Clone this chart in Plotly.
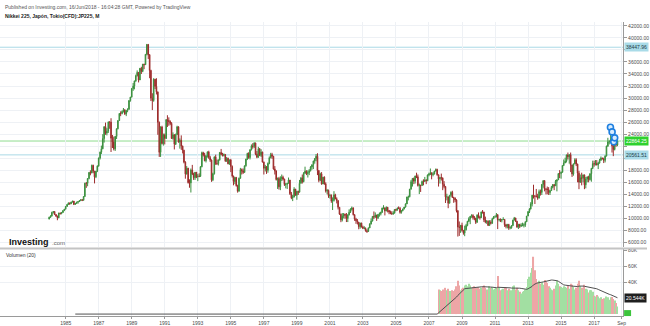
import pandas as pd
import plotly.graph_objects as go

# ---------------- Nikkei 225 monthly bars (Jan 1984 - Jun 2018) ----------------
months = pd.date_range("1984-01-01", "2018-06-01", freq="MS")

open_pts = [
    9890, 10200, 10400, 11000, 11150, 10650, 10400, 10100, 10900, 10800, 11000, 11300,
    11540, 11990, 12320, 12580, 12430, 12720, 12880, 12330, 12500, 12700, 12800, 12970,
    13110, 13020, 13640, 15860, 15830, 16630, 17650, 17560, 18820, 17850, 16910, 17850,
    18700, 20050, 21020, 21570, 23270, 25250, 24180, 24490, 26030, 26010, 23330, 22690,
    21560, 23620, 24900, 26260, 27430, 27420, 27770, 28060, 27370, 27920, 28120, 29580,
    30160, 31580, 31990, 32840, 33710, 34270, 33000, 34950, 34430, 35640, 35550, 37270,
    38920, 37190, 34590, 29980, 29580, 33130, 31940, 31040, 25980, 20980, 25190, 22450,
    23850, 23290, 26410, 26290, 26110, 25790, 23290, 23900, 22340, 23920, 25220, 22690,
    22980, 22020, 21340, 19350, 17390, 18350, 15950, 15910, 18060, 17400, 16770, 17680,
    16920, 17020, 17000, 18590, 20920, 20550, 19590, 20380, 21030, 20110, 19700, 16410,
    17420, 20230, 19110, 19110, 19730, 20970, 20640, 20450, 20630, 19560, 19990, 19080,
    19720, 18650, 17050, 16140, 16810, 15440, 14520, 16680, 18120, 17910, 17650, 18740,
    19870, 20810, 20130, 21410, 22040, 21960, 22530, 20690, 20170, 21560, 20470, 21020,
    19360, 18330, 18560, 18000, 19150, 20070, 20600, 20330, 18230, 17890, 16460, 16640,
    15260, 16630, 16830, 16530, 15640, 15670, 15830, 16380, 14110, 13410, 13560, 14880,
    13840, 14500, 14370, 15840, 16700, 16110, 17530, 17860, 17440, 17600, 17940, 18560,
    18930, 19540, 19960, 20340, 17970, 16330, 17410, 15730, 16860, 15750, 14540, 14650,
    13790, 13840, 12880, 12990, 13930, 13260, 12970, 11860, 10710, 9770, 10370, 10700,
    10540, 9990, 10590, 11030, 11490, 11760, 10620, 9880, 9620, 9380, 8640, 9220,
    8580, 8340, 8360, 7970, 7830, 8420, 9080, 9560, 10340, 10220, 10560, 10100,
    10680, 10780, 11040, 11720, 11760, 11240, 11860, 11330, 11080, 10820, 10770, 10900,
    11490, 11390, 11740, 11670, 11010, 11280, 11580, 11900, 12410, 13570, 13610, 14870,
    16110, 16650, 16210, 17060, 16910, 15470, 15510, 15460, 16140, 16130, 16400, 16270,
    17230, 17380, 17600, 17290, 17400, 17880, 18140, 17250, 16570, 16790, 16740, 15680,
    15310, 13590, 13600, 12530, 13850, 14340, 13480, 13380, 13070, 11260, 8580, 8510,
    8860, 7990, 7570, 8110, 8830, 9520, 9960, 10360, 10490, 10130, 10030, 9350,
    10550, 10200, 10130, 11090, 11060, 9770, 9380, 9540, 8820, 9370, 9200, 9940,
    10230, 10240, 10620, 9760, 9850, 9690, 9820, 9830, 8960, 8700, 8990, 8430,
    8460, 8800, 9720, 10080, 9520, 8540, 9010, 8700, 8840, 8870, 8930, 9450,
    10400, 11140, 11560, 12400, 13860, 13770, 13680, 13670, 13390, 14460, 14330, 15660,
    16290, 14910, 14840, 14830, 14300, 14630, 15160, 15620, 15420, 16170, 16410, 17460,
    17450, 17670, 18800, 19210, 19520, 20560, 20240, 20590, 18890, 17390, 19080, 19750,
    19030, 17520, 16030, 16760, 16670, 17230, 15580, 16570, 16890, 16450, 17430, 18310,
    19110, 19040, 19120, 18910, 19200, 19650, 20030, 19930, 19650, 20360, 22010, 22720,
    22760, 23100, 22070, 21450, 22470, 22200,
]

high_pts = [
    10280, 10520, 11120, 11190, 11180, 10700, 10450, 10950, 10990, 11060, 11350, 11580,
    12050, 12400, 12650, 12620, 12770, 12920, 12900, 12560, 12760, 12880, 13020, 13160,
    13220, 13700, 15930, 16050, 16700, 17680, 18000, 18940, 18930, 17900, 17900, 18820,
    20100, 21100, 22100, 24000, 25300, 25930, 25000, 26100, 26120, 26650, 23870, 23600,
    23700, 24950, 26300, 27500, 27800, 27950, 28350, 28100, 27950, 28300, 29650, 30200,
    31650, 32500, 32900, 33900, 34600, 34300, 34990, 35200, 35650, 35700, 37300, 38960,
    38950, 37300, 34700, 30800, 33300, 33190, 33300, 31050, 26100, 25300, 25400, 24100,
    24100, 26500, 27150, 26800, 26300, 26000, 24300, 24000, 24100, 25400, 25300, 23300,
    23800, 22100, 21400, 19500, 18700, 18400, 16500, 18300, 18900, 17600, 17700, 17700,
    17400, 17500, 18700, 21100, 21080, 20900, 20500, 21150, 21250, 20400, 19800, 17600,
    20300, 20600, 19800, 19800, 21000, 21550, 20900, 20800, 20650, 20200, 20100, 19800,
    19900, 18800, 17100, 16900, 16900, 15600, 16800, 18400, 18300, 18300, 18800, 19900,
    20900, 21000, 21500, 22300, 22500, 22670, 22600, 21200, 21900, 21700, 21500, 21100,
    19450, 18900, 18700, 19300, 20300, 20900, 20900, 20400, 18700, 18000, 16800, 16900,
    17000, 17300, 17100, 16600, 15900, 15900, 16800, 16400, 14400, 13900, 15200, 14900,
    14600, 14600, 16400, 16900, 17300, 17700, 18600, 18000, 18000, 18200, 18700, 18950,
    19600, 20000, 20700, 20833, 18000, 17600, 17700, 16900, 17000, 16000, 14900, 14800,
    14100, 14000, 13500, 14530, 14100, 13500, 13000, 11900, 10800, 10900, 10900, 10800,
    10900, 10700, 11500, 11700, 11980, 11800, 10700, 10100, 9900, 9400, 9300, 9300,
    8800, 8700, 8500, 8200, 8500, 9200, 10000, 10400, 11160, 11000, 10600, 10700,
    11000, 11100, 11800, 12200, 11800, 12000, 11900, 11400, 11300, 11200, 11200, 11500,
    11600, 11800, 12000, 11900, 11400, 11600, 11900, 12500, 13600, 13800, 14900, 16400,
    16700, 16800, 17100, 17600, 17300, 15800, 15600, 16300, 16500, 16900, 16500, 17300,
    17600, 18300, 17600, 17700, 17900, 18300, 18260, 17300, 16900, 17450, 16800, 16200,
    15400, 14100, 13600, 13900, 14500, 14600, 13600, 13500, 13200, 11400, 9500, 8900,
    9300, 8100, 8800, 9100, 9600, 10200, 10400, 10700, 10700, 10400, 10100, 10700,
    11000, 10400, 11100, 11400, 11100, 10300, 9700, 9700, 9700, 9700, 10100, 10400,
    10500, 10900, 10700, 9900, 10000, 9900, 10200, 9900, 9100, 9100, 9100, 8700,
    8900, 9800, 10250, 10100, 9600, 9100, 9100, 9200, 9300, 9200, 9500, 10400,
    11200, 11700, 12700, 13900, 15600, 13800, 14900, 14100, 14800, 14800, 15700, 16320,
    16320, 15000, 15300, 15200, 14700, 15400, 15700, 15700, 16400, 16500, 17500, 18030,
    17800, 18800, 19800, 20100, 20600, 20950, 20700, 20950, 18900, 19100, 20000, 20000,
    19100, 17900, 17300, 17600, 17300, 17300, 16900, 17000, 17100, 17500, 18400, 19600,
    19600, 19700, 19700, 19400, 19900, 20300, 20100, 20100, 20500, 22100, 23400, 23000,
    24130, 23500, 22500, 22600, 23050, 23000,
]

low_pts = [
    9860, 10090, 10330, 10820, 10560, 10250, 9700, 10050, 10650, 10700, 10900, 11230,
    11500, 11950, 12260, 12280, 12390, 12650, 12220, 12260, 12420, 12450, 12740, 12900,
    12880, 12960, 13600, 15080, 15350, 16500, 17170, 17510, 17510, 15820, 16700, 17700,
    18600, 19800, 20700, 21500, 22600, 23900, 23800, 24200, 24900, 21040, 21700, 21300,
    21220, 23200, 24800, 26200, 27000, 27300, 27600, 27200, 27000, 27650, 28100, 29400,
    30100, 31200, 31450, 32700, 33600, 32600, 33000, 34000, 34300, 34800, 35500, 37100,
    36500, 33300, 29500, 28000, 29400, 31500, 30600, 23900, 20220, 20220, 22300, 22100,
    22300, 23200, 25200, 25400, 25500, 23200, 23100, 21460, 22200, 23900, 22600, 21600,
    21400, 20800, 19150, 16600, 17300, 15800, 15100, 14310, 17200, 16400, 16400, 16700,
    16200, 16850, 16900, 18500, 20300, 19500, 19300, 20100, 19900, 19400, 16080, 16200,
    17300, 18900, 18900, 18800, 19600, 20500, 20300, 20300, 19400, 19400, 19000, 18900,
    17700, 16800, 15500, 15700, 15300, 14290, 14480, 16600, 17300, 17400, 17600, 18600,
    19700, 19900, 19800, 21300, 21600, 21700, 20500, 20000, 20100, 20400, 20200, 19300,
    17300, 17800, 17400, 17600, 19000, 20000, 19900, 18100, 17300, 16300, 14900, 14800,
    14700, 16200, 16300, 15400, 15000, 14900, 15800, 13900, 13200, 12880, 13500, 13800,
    13100, 13900, 14300, 15800, 15800, 16000, 17400, 17200, 16800, 17200, 17800, 18100,
    18200, 19100, 19500, 17200, 16000, 16200, 15600, 15700, 15600, 14300, 14000, 13420,
    13300, 12600, 11400, 12800, 13200, 12500, 11500, 10600, 9380, 9500, 10000, 9950,
    9400, 9400, 10500, 10900, 11300, 10500, 9600, 9100, 9000, 8200, 8300, 8500,
    8300, 8200, 7800, 7600, 7800, 8400, 9000, 9500, 9900, 10100, 9600, 9900,
    10300, 10500, 10900, 11500, 10500, 11200, 11000, 10700, 10700, 10600, 10600, 10800,
    11200, 11300, 11600, 10800, 10800, 11200, 11500, 11800, 12400, 13000, 13500, 14800,
    15300, 15700, 15800, 16700, 15300, 14050, 14400, 15400, 15500, 16100, 15700, 16200,
    17000, 17200, 16500, 17000, 17300, 17800, 17100, 15300, 15800, 16300, 14700, 15000,
    12570, 13000, 11700, 12500, 13600, 13400, 12600, 12700, 11000, 6990, 7100, 7600,
    7800, 7300, 7050, 8000, 8700, 9400, 9050, 10100, 9800, 9700, 9080, 9300,
    10000, 9800, 10100, 10800, 9400, 9200, 9100, 8800, 8800, 9000, 9100, 9900,
    10200, 10200, 8230, 9500, 9400, 9350, 9800, 8600, 8350, 8350, 8100, 8200,
    8300, 8800, 9700, 9400, 8500, 8240, 8400, 8600, 8700, 8500, 8600, 9400,
    10400, 10900, 11500, 12000, 13300, 12400, 13500, 13100, 13300, 13800, 13900, 15100,
    14500, 13990, 14000, 13900, 13900, 14600, 15000, 14700, 15400, 14500, 16400, 16700,
    16600, 17600, 18700, 19200, 19300, 19800, 19100, 17700, 16900, 17100, 19000, 18700,
    16000, 14860, 15900, 15500, 16000, 14860, 15000, 16000, 16000, 16300, 16100, 18200,
    18600, 18800, 18800, 18200, 19100, 19600, 19800, 19200, 19300, 20300, 21900, 22300,
    22700, 20950, 20350, 21300, 21900, 22000,
]

close_pts = [
    10200, 10400, 11000, 11150, 10650, 10400, 10100, 10900, 10800, 11000, 11300, 11540,
    11990, 12320, 12580, 12430, 12720, 12880, 12330, 12500, 12700, 12800, 12970, 13110,
    13020, 13640, 15860, 15830, 16630, 17650, 17560, 18820, 17850, 16910, 17850, 18700,
    20050, 21020, 21570, 23270, 25250, 24180, 24490, 26030, 26010, 23330, 22690, 21560,
    23620, 24900, 26260, 27430, 27420, 27770, 28060, 27370, 27920, 28120, 29580, 30160,
    31580, 31990, 32840, 33710, 34270, 33000, 34950, 34430, 35640, 35550, 37270, 38920,
    37190, 34590, 29980, 29580, 33130, 31940, 31040, 25980, 20980, 25190, 22450, 23850,
    23290, 26410, 26290, 26110, 25790, 23290, 23900, 22340, 23920, 25220, 22690, 22980,
    22020, 21340, 19350, 17390, 18350, 15950, 15910, 18060, 17400, 16770, 17680, 16920,
    17020, 17000, 18590, 20920, 20550, 19590, 20380, 21030, 20110, 19700, 16410, 17420,
    20230, 19110, 19110, 19730, 20970, 20640, 20450, 20630, 19560, 19990, 19080, 19720,
    18650, 17050, 16140, 16810, 15440, 14520, 16680, 18120, 17910, 17650, 18740, 19870,
    20810, 20130, 21410, 22040, 21960, 22530, 20690, 20170, 21560, 20470, 21020, 19360,
    18330, 18560, 18000, 19150, 20070, 20600, 20330, 18230, 17890, 16460, 16640, 15260,
    16630, 16830, 16530, 15640, 15670, 15830, 16380, 14110, 13410, 13560, 14880, 13840,
    14500, 14370, 15840, 16700, 16110, 17530, 17860, 17440, 17600, 17940, 18560, 18930,
    19540, 19960, 20340, 17970, 16330, 17410, 15730, 16860, 15750, 14540, 14650, 13790,
    13840, 12880, 12990, 13930, 13260, 12970, 11860, 10710, 9770, 10370, 10700, 10540,
    9990, 10590, 11030, 11490, 11760, 10620, 9880, 9620, 9380, 8640, 9220, 8580,
    8340, 8360, 7970, 7830, 8420, 9080, 9560, 10340, 10220, 10560, 10100, 10680,
    10780, 11040, 11720, 11760, 11240, 11860, 11330, 11080, 10820, 10770, 10900, 11490,
    11390, 11740, 11670, 11010, 11280, 11580, 11900, 12410, 13570, 13610, 14870, 16110,
    16650, 16210, 17060, 16910, 15470, 15510, 15460, 16140, 16130, 16400, 16270, 17230,
    17380, 17600, 17290, 17400, 17880, 18140, 17250, 16570, 16790, 16740, 15680, 15310,
    13590, 13600, 12530, 13850, 14340, 13480, 13380, 13070, 11260, 8580, 8510, 8860,
    7990, 7570, 8110, 8830, 9520, 9960, 10360, 10490, 10130, 10030, 9350, 10550,
    10200, 10130, 11090, 11060, 9770, 9380, 9540, 8820, 9370, 9200, 9940, 10230,
    10240, 10620, 9760, 9850, 9690, 9820, 9830, 8960, 8700, 8990, 8430, 8460,
    8800, 9720, 10080, 9520, 8540, 9010, 8700, 8840, 8870, 8930, 9450, 10400,
    11140, 11560, 12400, 13860, 13770, 13680, 13670, 13390, 14460, 14330, 15660, 16290,
    14910, 14840, 14830, 14300, 14630, 15160, 15620, 15420, 16170, 16410, 17460, 17450,
    17670, 18800, 19210, 19520, 20560, 20240, 20590, 18890, 17390, 19080, 19750, 19030,
    17520, 16030, 16760, 16670, 17230, 15580, 16570, 16890, 16450, 17430, 18310, 19110,
    19040, 19120, 18910, 19200, 19650, 20030, 19930, 19650, 20360, 22010, 22720, 22760,
    23100, 22070, 21450, 22470, 22200, 22864.25,
]

# ---------------- Volume (thousands), available from Aug 2007 ----------------
vol_months = pd.date_range("2007-08-01", "2018-06-01", freq="MS")
volume_k = [
    31, 30, 29, 31, 30,
    33, 30, 32, 29, 28, 30, 29, 31, 35, 42, 36, 30,
    32, 33, 36, 37, 35, 38, 36, 33, 34, 35, 33, 30,
    34, 32, 33, 35, 36, 33, 31, 30, 35, 33, 34, 31,
    32, 33, 48, 33, 30, 31, 32, 34, 33, 30, 32, 29,
    30, 35, 36, 31, 33, 30, 28, 26, 28, 29, 31, 34,
    44, 47, 52, 58, 72, 55, 44, 40, 42, 38, 40, 37,
    43, 41, 39, 35, 33, 31, 30, 32, 36, 42, 38, 35,
    34, 33, 35, 34, 33, 36, 32, 38, 37, 34, 31, 33,
    38, 42, 35, 33, 31, 37, 32, 31, 27, 30, 30, 28,
    23, 22, 24, 22, 20, 21, 19, 20, 19, 22, 21, 18,
    21, 21.5, 19, 17, 14, 9.38,
]
VOL_MA_LEN = 20

# Horizontal levels drawn across the price pane
level_values = [38447.96, 22864.25, 20561.51]
level_colors = ["#a9d9e6", "#8fdc8f", "#a9d9e6"]
level_box_colors = ["#a9dbe8", "#2ed12e", "#a9dbe8"]
level_text_colors = ["#1d3b45", "#ffffff", "#1d3b45"]

# Event flags above the latest bars
event_dates = ["2017-12-28", "2018-02-03", "2018-03-11", "2018-04-01"]
event_prices = [25160, 24380, 22730, 23390]

# Axis ticks
price_ticks = [6000, 8000, 10000, 12000, 14000, 16000, 18000, 20000, 22000, 24000,
               26000, 28000, 30000, 32000, 34000, 36000, 38000, 40000, 42000]
price_ticks_hidden = [20000, 22000, 38000]
year_ticks = [1985, 1987, 1989, 1991, 1993, 1995, 1997, 1999, 2001, 2003,
              2005, 2007, 2009, 2011, 2013, 2015, 2017]
vol_ticks = [40, 60, 80]
vol_tick_text = ["40K", "60K", "80K"]

assert len(open_pts) == len(high_pts) == len(low_pts) == len(close_pts) == len(months)
assert len(volume_k) == len(vol_months)

# ---------------- Geometry (pixels of a 650x326 page) ----------------
W, H = 650, 326
PLOT_RIGHT = 626
PRICE_TOP, PRICE_BOT = 20, 247
VOL_TOP, VOL_BOT = 249, 316


def py(px):
    return 1 - px / H


x_dom = [0, PLOT_RIGHT / W]
FONT = "Arial, Liberation Sans, sans-serif"
UP_LINE, UP_FILL = "#3b8f3e", "#5cbf5f"
DN_LINE, DN_FILL = "#9c2b2b", "#c8413c"

fig = go.Figure()

fig.add_trace(go.Candlestick(
    x=months, open=open_pts, high=high_pts, low=low_pts, close=close_pts,
    increasing=dict(line=dict(color=UP_LINE, width=1), fillcolor=UP_FILL),
    decreasing=dict(line=dict(color=DN_LINE, width=1), fillcolor=DN_FILL),
    whiskerwidth=0, xaxis="x", yaxis="y", showlegend=False, hoverinfo="skip",
))

fig.add_trace(go.Scatter(
    x=pd.to_datetime(event_dates), y=event_prices, mode="markers",
    marker=dict(symbol="circle", size=6, color="#d6ecff",
                line=dict(color="#1e7fe0", width=1.6)),
    xaxis="x", yaxis="y", showlegend=False, hoverinfo="skip",
))

# volume bars coloured by the direction of their month's candle
bar_dir = {m: (c >= o) for m, o, c in zip(months, open_pts, close_pts)}
vol_colors = ["#a2dfa2" if bar_dir[m] else "#eda6a6" for m in vol_months]
fig.add_trace(go.Bar(
    x=vol_months, y=volume_k, marker=dict(color=vol_colors, line=dict(width=0)),
    xaxis="x2", yaxis="y2", showlegend=False, hoverinfo="skip",
))

vol_full = pd.Series(0.0, index=months)
vol_full.loc[vol_months] = volume_k
vol_ma = vol_full.rolling(VOL_MA_LEN).mean()
fig.add_trace(go.Scatter(
    x=vol_ma.index[VOL_MA_LEN - 1:], y=vol_ma.values[VOL_MA_LEN - 1:], mode="lines",
    line=dict(color="#505050", width=1), xaxis="x2", yaxis="y2",
    showlegend=False, hoverinfo="skip",
))

# ---------------- Axes ----------------
t0 = pd.Timestamp("1985-01-01")
days_per_px = 365.25 / 16.59
x_range = [t0 - pd.Timedelta(days=66 * days_per_px),
           t0 + pd.Timedelta(days=(PLOT_RIGHT - 66) * days_per_px)]

x_tickvals = [f"{y}-01-01" for y in year_ticks] + ["2018-09-01"]
x_ticktext = [str(y) for y in year_ticks] + ["Sep"]

price_per_px = 36000 / (242 - 24)
price_range = [6000 - (PRICE_BOT - 242) * price_per_px,
               42000 + (24 - PRICE_TOP) * price_per_px]
vol_per_px = 1 / 0.8
vol_range = [-(VOL_BOT - 314) * vol_per_px, (314 - VOL_TOP) * vol_per_px]

grid = "#eef1f5"
tickfont = dict(family=FONT, size=5, color="#4a4a4a")

fig.update_layout(
    width=W, height=H, margin=dict(l=0, r=0, t=0, b=0),
    paper_bgcolor="white", plot_bgcolor="white", showlegend=False,
    bargap=0.12, hovermode=False,
    xaxis=dict(domain=x_dom, anchor="y", type="date", range=x_range,
               rangeslider=dict(visible=False), tickvals=x_tickvals,
               ticktext=x_ticktext, showticklabels=False, showgrid=True,
               gridcolor=grid, gridwidth=1, zeroline=False, showline=False),
    xaxis2=dict(domain=x_dom, anchor="y2", type="date", matches="x",
                range=x_range, tickvals=x_tickvals, ticktext=x_ticktext,
                tickfont=tickfont, ticks="outside", ticklen=2, tickcolor="#999",
                showgrid=True, gridcolor=grid, gridwidth=1, zeroline=False,
                showline=True, linecolor="#9a9a9a", linewidth=1),
    yaxis=dict(domain=[py(PRICE_BOT), py(PRICE_TOP)], anchor="x", side="right",
               range=price_range, tickvals=price_ticks,
               ticktext=["" if v in price_ticks_hidden else f"{v:.2f}" for v in price_ticks],
               tickfont=tickfont, ticks="outside", ticklen=3, tickcolor="#999",
               showgrid=True, gridcolor=grid, gridwidth=1, zeroline=False,
               showline=True, linecolor="#9a9a9a", linewidth=1),
    yaxis2=dict(domain=[py(VOL_BOT), py(VOL_TOP)], anchor="x2", side="right",
                range=vol_range, tickvals=vol_ticks, ticktext=vol_tick_text,
                tickfont=tickfont, ticks="outside", ticklen=3, tickcolor="#999",
                showgrid=True, gridcolor=grid, gridwidth=1, zeroline=False,
                showline=True, linecolor="#9a9a9a", linewidth=1),
)

shapes = []
for val, col in zip(level_values, level_colors):
    shapes.append(dict(type="line", xref="paper", yref="y", x0=0, x1=x_dom[1],
                       y0=val, y1=val, line=dict(color=col, width=1), layer="below"))
# pane separator and frame lines
shapes.append(dict(type="line", xref="paper", yref="paper", x0=0, x1=1,
                   y0=py(248), y1=py(248), line=dict(color="#c4c4c4", width=2)))
shapes.append(dict(type="rect", xref="paper", yref="paper",
                   x0=(PLOT_RIGHT + 1) / W, x1=(PLOT_RIGHT + 8) / W,
                   y0=py(316), y1=py(310), fillcolor="#3cc43c", line=dict(width=0)))
fig.update_layout(shapes=shapes)

ann = []
ann.append(dict(xref="paper", yref="paper", x=3 / W, y=py(5), xanchor="left",
                yanchor="middle", showarrow=False,
                text="Published on Investing.com, 16/Jun/2018 - 16:04:28 GMT, Powered by TradingView",
                font=dict(family=FONT, size=5, color="#555")))
ann.append(dict(xref="paper", yref="paper", x=3 / W, y=py(14), xanchor="left",
                yanchor="middle", showarrow=False,
                text="<b>Nikkei 225, Japón, Tokio(CFD):JP225, M</b>",
                font=dict(family=FONT, size=5, color="#222")))
ann.append(dict(xref="paper", yref="paper", x=4 / W, y=py(255), xanchor="left",
                yanchor="middle", showarrow=False, text="Volumen (20)",
                font=dict(family=FONT, size=5, color="#333")))
ann.append(dict(xref="paper", yref="paper", x=7 / W, y=py(241), xanchor="left",
                yanchor="middle", showarrow=False, text="<b>Investing</b>",
                font=dict(family=FONT, size=9, color="#111")))
ann.append(dict(xref="paper", yref="paper", x=50 / W, y=py(242), xanchor="left",
                yanchor="middle", showarrow=False, text=".com",
                font=dict(family=FONT, size=6, color="#666")))

for val, bg, fg in zip(level_values, level_box_colors, level_text_colors):
    ann.append(dict(xref="paper", yref="y", x=(PLOT_RIGHT + 1) / W, y=val,
                    xanchor="left", yanchor="middle", showarrow=False,
                    text=f"{val:.2f}", bgcolor=bg, borderpad=1,
                    font=dict(family=FONT, size=5, color=fg)))

ma_last = vol_ma.values[-1]
ann.append(dict(xref="paper", yref="y2", x=(PLOT_RIGHT + 1) / W, y=ma_last,
                xanchor="left", yanchor="middle", showarrow=False,
                text=f"{ma_last:.3f}K", bgcolor="#1f1f1f", borderpad=1,
                font=dict(family=FONT, size=5, color="#ffffff")))
fig.update_layout(annotations=ann)

fig.write_html("out.html")
